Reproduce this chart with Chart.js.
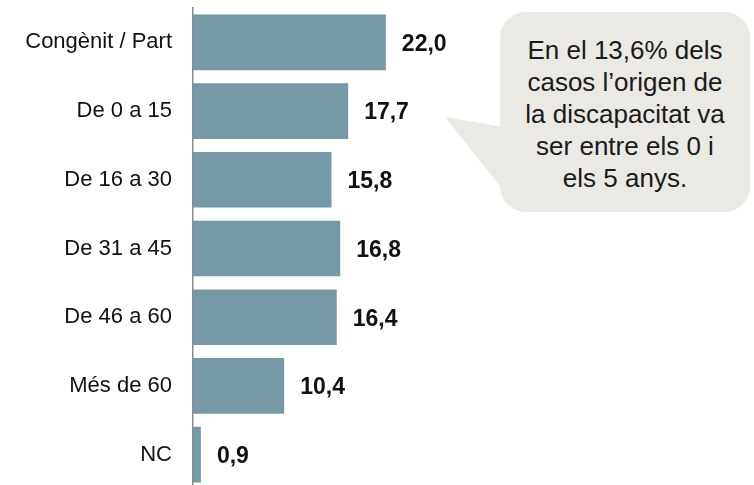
<!DOCTYPE html>
<html>
<head>
<meta charset="utf-8">
<script src="https://cdn.jsdelivr.net/npm/chart.js@4/dist/chart.umd.min.js"></script>
<style>
  html, body { margin:0; padding:0; width:754px; height:485px; overflow:hidden; background:#fff; }
  #wrap { position:relative; width:754px; height:489px; }
  #c { position:absolute; left:0; top:0; }
  #ptr { position:absolute; left:0; top:0; }
  #callout {
    position:absolute; left:500px; top:12px; width:250px; height:200px;
    background:#EAE9E4; border-radius:26px;
    display:flex; align-items:center; justify-content:center; text-align:center;
    font-family:"Liberation Sans", Arial, sans-serif; font-size:26px; line-height:32px; color:#1a1a1a;
  }
</style>
</head>
<body>
<div id="wrap">
  <canvas id="c" width="754" height="489"></canvas>
  <svg id="ptr" width="754" height="489"><polygon points="445,117 503,127 503,190" fill="#EAE9E4"/></svg>
  <div id="callout"><div style="margin-top:4px">En el 13,6% dels<br>casos l’origen de<br>la discapacitat va<br>ser entre els 0 i<br>els 5 anys.</div></div>
</div>
<script>
const categories = ["Congènit / Part", "De 0 a 15", "De 16 a 30", "De 31 a 45", "De 46 a 60", "Més de 60", "NC"];
const values = [22.0, 17.7, 15.8, 16.8, 16.4, 10.4, 0.9];

const valueLabels = {
  id: 'valueLabels',
  afterDatasetsDraw(chart) {
    const ctx = chart.ctx;
    const meta = chart.getDatasetMeta(0);
    ctx.save();
    ctx.font = 'bold 23px "Liberation Sans", Arial, sans-serif';
    ctx.fillStyle = '#111';
    ctx.textAlign = 'left';
    ctx.textBaseline = 'middle';
    meta.data.forEach((bar, i) => {
      ctx.fillText(values[i].toFixed(1).replace('.', ','), bar.x + 16, bar.y + 2);
    });
    ctx.restore();
  }
};

new Chart(document.getElementById('c'), {
  type: 'bar',
  data: {
    labels: categories,
    datasets: [{
      data: values,
      backgroundColor: '#7599A5',
      borderWidth: 0,
      categoryPercentage: 1.0,
      barPercentage: 0.81
    }]
  },
  options: {
    indexAxis: 'y',
    responsive: false,
    animation: false,
    layout: { padding: { top: 8, right: 0, bottom: 0, left: 0 } },
    plugins: { legend: { display: false }, tooltip: { enabled: false } },
    scales: {
      x: { display: false, min: 0, max: 64 },
      y: {
        afterFit(scale) {
          scale.width = 193;
          scale.paddingTop = 0; scale.paddingBottom = 0;
          scale.paddingLeft = 0; scale.paddingRight = 0;
        },
        grid: { display: false, drawTicks: false },
        border: { display: true, color: '#8a8a8a', width: 1.5 },
        ticks: {
          padding: 21,
          color: '#111',
          font: { family: '"Liberation Sans", Arial, sans-serif', size: 22 }
        }
      }
    }
  },
  plugins: [valueLabels]
});
</script>
</body>
</html>
